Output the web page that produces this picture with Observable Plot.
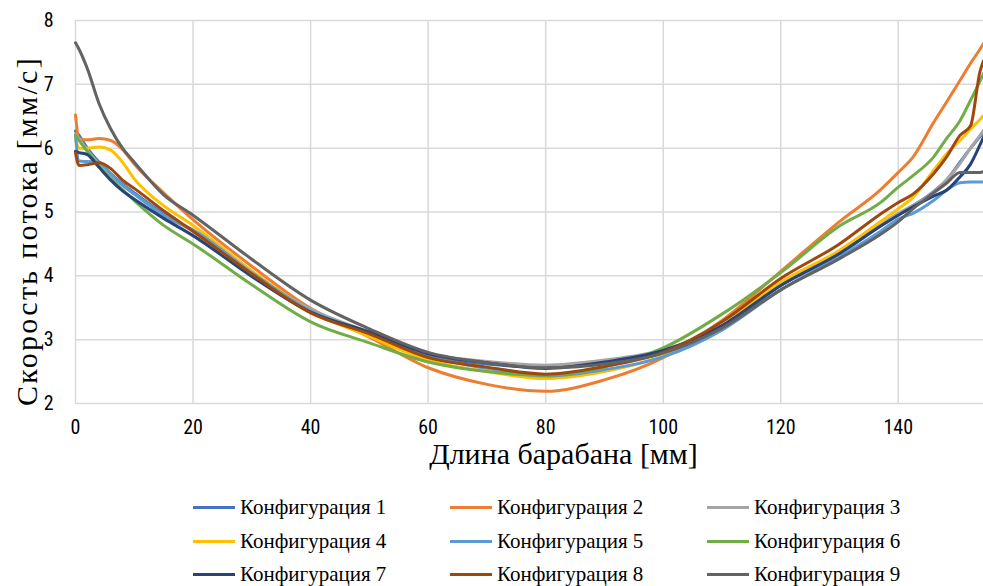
<!DOCTYPE html>
<html>
<head>
<meta charset="utf-8">
<script src="https://cdn.jsdelivr.net/npm/d3@7"></script>
<script src="https://cdn.jsdelivr.net/npm/@observablehq/plot@0.6"></script>
<style>
  html, body { margin: 0; padding: 0; background: #fff; }
  #wrap { position: relative; width: 983px; height: 586px; overflow: hidden; }
  #legend { position: absolute; left: 0; top: 488px; width: 983px; height: 98px; font-family: "Liberation Serif", "Times New Roman", serif; font-size: 21px; color: #000; line-height: 1; }
  .item { position: absolute; display: flex; align-items: center; height: 26px; white-space: nowrap; }
  .sw { width: 42px; height: 3px; margin-right: 5px; }
</style>
</head>
<body>
<div id="wrap"><div id="chart"></div><div id="legend"></div></div>
<script>
// Shared x positions (Длина барабана, мм)
const X = [0, 0.6, 2, 4, 6, 8, 10, 15, 20, 30, 40, 50, 60, 70, 80, 90, 100, 110, 120, 130, 137, 140, 142.5, 146, 148.2, 150.5, 152.3, 153.9, 154.5];

// Series values (Скорость потока, мм/с)
const config1 = [6.27, 6.2, 6.0, 5.78, 5.6, 5.44, 5.3, 4.97, 4.7, 4.05, 3.46, 3.1, 2.76, 2.62, 2.57, 2.65, 2.82, 3.2, 3.85, 4.35, 4.78, 4.96, 5.1, 5.32, 5.5, 5.78, 6.0, 6.18, 6.25];
const config2 = [6.52, 6.15, 6.13, 6.15, 6.12, 5.98, 5.75, 5.3, 4.88, 4.15, 3.49, 3.04, 2.56, 2.3, 2.19, 2.37, 2.72, 3.3, 4.07, 4.85, 5.35, 5.62, 5.86, 6.4, 6.72, 7.06, 7.33, 7.55, 7.64];
const config3 = [6.22, 6.15, 5.97, 5.75, 5.57, 5.42, 5.28, 4.95, 4.7, 4.04, 3.48, 3.12, 2.78, 2.66, 2.6, 2.68, 2.84, 3.2, 3.88, 4.35, 4.8, 4.98, 5.1, 5.31, 5.5, 5.76, 6.0, 6.2, 6.28];
const config4 = [6.15, 6.0, 6.0, 6.02, 5.97, 5.78, 5.52, 5.1, 4.79, 4.08, 3.45, 3.05, 2.68, 2.5, 2.39, 2.5, 2.75, 3.22, 3.9, 4.4, 4.85, 5.05, 5.23, 5.65, 5.91, 6.12, 6.3, 6.45, 6.51];
const config5 = [6.2, 5.8, 5.79, 5.78, 5.6, 5.42, 5.28, 4.95, 4.72, 4.05, 3.45, 3.1, 2.74, 2.55, 2.43, 2.53, 2.73, 3.15, 3.78, 4.3, 4.7, 4.89, 4.98, 5.18, 5.34, 5.46, 5.47, 5.47, 5.47];
const config6 = [6.2, 6.12, 5.95, 5.72, 5.52, 5.35, 5.18, 4.79, 4.5, 3.86, 3.28, 2.95, 2.65, 2.5, 2.44, 2.57, 2.87, 3.4, 4.05, 4.78, 5.15, 5.39, 5.57, 5.86, 6.15, 6.43, 6.75, 7.05, 7.17];
const config7 = [5.95, 5.93, 5.9, 5.7, 5.5, 5.33, 5.2, 4.9, 4.63, 3.99, 3.43, 3.12, 2.78, 2.64, 2.55, 2.65, 2.83, 3.22, 3.85, 4.35, 4.78, 4.95, 5.08, 5.25, 5.34, 5.55, 5.75, 6.05, 6.17];
const config8 = [5.93, 5.73, 5.74, 5.77, 5.68, 5.5, 5.37, 5.02, 4.7, 4.03, 3.42, 3.09, 2.72, 2.57, 2.46, 2.58, 2.8, 3.28, 3.96, 4.5, 4.97, 5.15, 5.28, 5.6, 5.86, 6.2, 6.35, 7.2, 7.37];
const config9 = [7.65, 7.55, 7.25, 6.7, 6.3, 6.0, 5.78, 5.27, 4.95, 4.26, 3.62, 3.17, 2.8, 2.64, 2.56, 2.62, 2.79, 3.18, 3.78, 4.27, 4.65, 4.85, 5.05, 5.3, 5.45, 5.62, 5.62, 5.62, 5.63];

const names = ["Конфигурация 1", "Конфигурация 2", "Конфигурация 3", "Конфигурация 4", "Конфигурация 5", "Конфигурация 6", "Конфигурация 7", "Конфигурация 8", "Конфигурация 9"];
const colors = ["#4472C4", "#ED7D31", "#A5A5A5", "#FFC000", "#5B9BD5", "#70AD47", "#264478", "#9E480E", "#636363"];
const xTicks = [0, 20, 40, 60, 80, 100, 120, 140];
const yTicks = [2, 3, 4, 5, 6, 7, 8];
const xTitle = "Длина барабана [мм]";
const yTitle = "Скорость потока [мм/с]";

const allValues = [config1, config2, config3, config4, config5, config6, config7, config8, config9];
const rows = allValues.flatMap((vals, i) => vals.map((v, j) => ({x: X[j], y: v, name: names[i]})));

const tickFont = "'Liberation Sans Narrow', 'Roboto Condensed', Lato, sans-serif";
const serif = "'Liberation Serif', 'Times New Roman', serif";

const chart = Plot.plot({
  width: 983,
  height: 488,
  marginLeft: 75,
  marginRight: 0,
  marginTop: 20,
  marginBottom: 85,
  style: {background: "#fff", overflow: "visible"},
  x: {domain: [0, 154.5]},
  y: {domain: [2, 8]},
  color: {domain: names, range: colors},
  marks: [
    Plot.gridX(xTicks, {stroke: "#d9d9d9", strokeOpacity: 1, strokeWidth: 1.5}),
    Plot.gridY(yTicks, {stroke: "#d9d9d9", strokeOpacity: 1, strokeWidth: 1.5}),
    Plot.axisX(xTicks, {tickSize: 0, tickPadding: 16, fontSize: 20, fontFamily: tickFont, label: null, fill: "#000", tickFormat: d => String(d)}),
    Plot.axisY(yTicks, {tickSize: 0, tickPadding: 22, fontSize: 20, fontFamily: tickFont, label: null, fill: "#000", tickFormat: d => String(d)}),
    Plot.line(rows, {x: "x", y: "y", z: "name", stroke: "name", strokeWidth: 3, curve: "monotone-x"}),
    Plot.text([xTitle], {frameAnchor: "bottom", dx: 34, dy: 60, fontSize: 30, fontFamily: serif, fill: "#000", textAnchor: "middle"}),
    Plot.text([yTitle], {frameAnchor: "left", dx: -48, dy: 19, rotate: -90, fontSize: 30, fontFamily: serif, fill: "#000", textAnchor: "middle"})
  ]
});
d3.select(chart).selectAll("text").filter(function() { return this.textContent === yTitle; }).style("letter-spacing", "2.3px");
document.getElementById("chart").appendChild(chart);

const legend = document.getElementById("legend");
const colX = [193, 450, 707];
const rowY = [6, 40, 73];
names.forEach((n, i) => {
  const it = document.createElement("div");
  it.className = "item";
  it.style.left = colX[i % 3] + "px";
  it.style.top = rowY[Math.floor(i / 3)] + "px";
  const sw = document.createElement("div");
  sw.className = "sw";
  sw.style.background = colors[i];
  const tx = document.createElement("span");
  tx.textContent = n;
  it.appendChild(sw);
  it.appendChild(tx);
  legend.appendChild(it);
});
</script>
</body>
</html>
